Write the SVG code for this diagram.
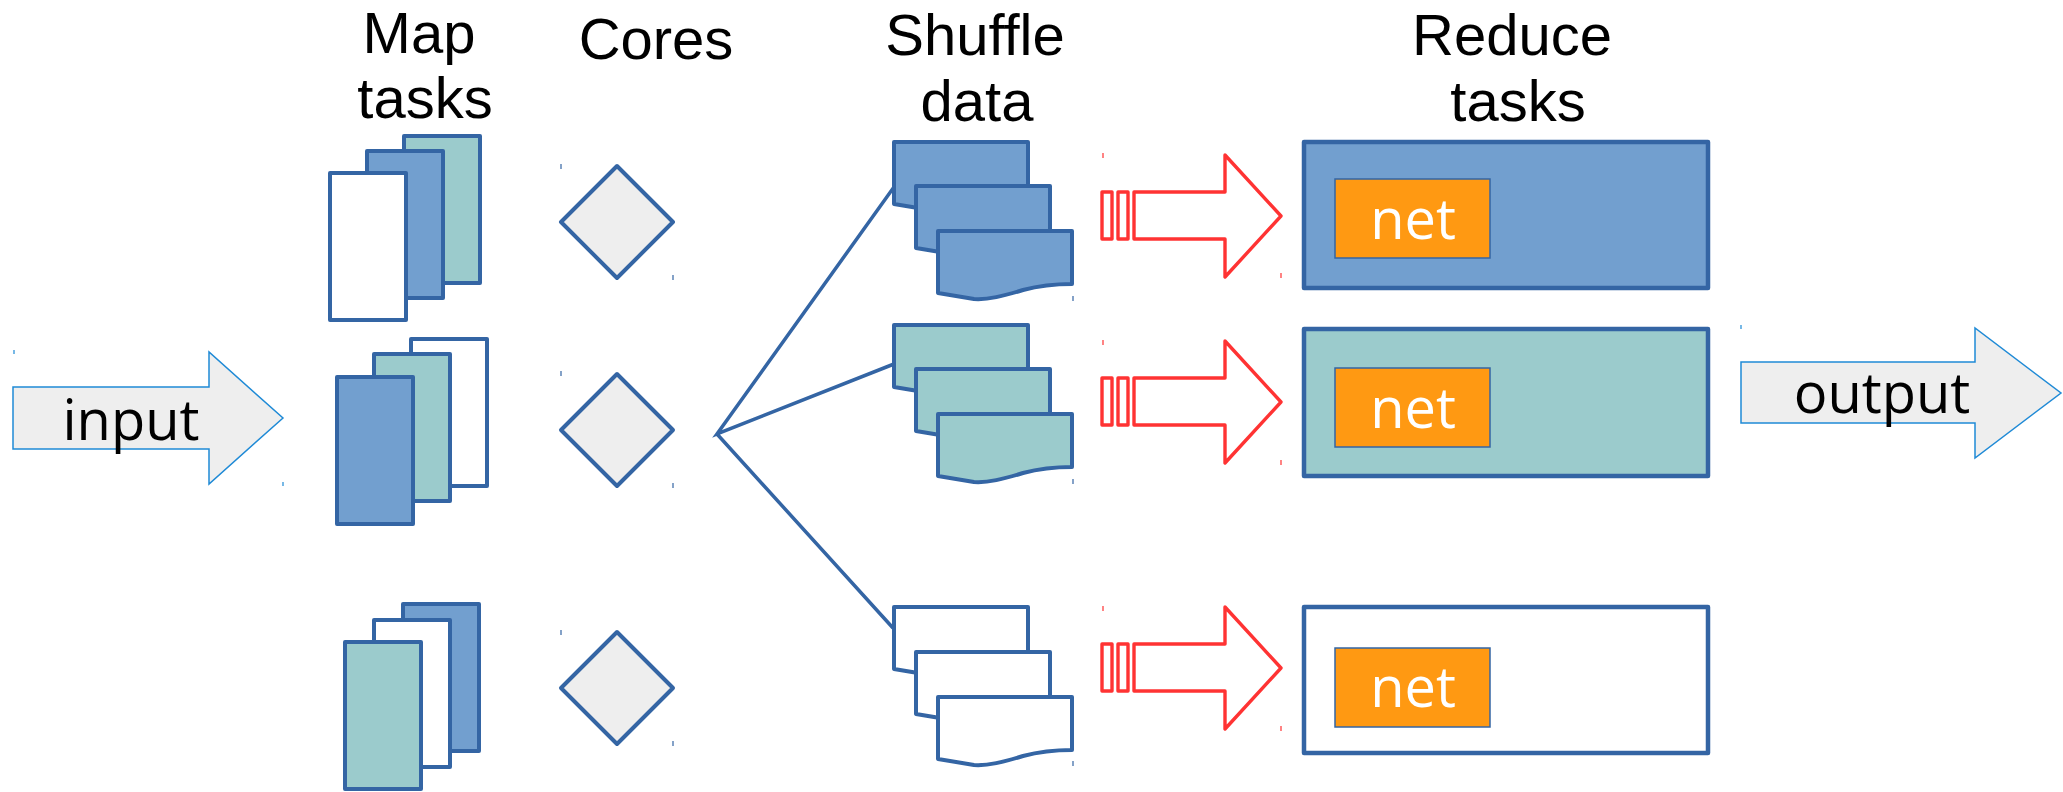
<svg xmlns="http://www.w3.org/2000/svg" width="2063" height="792" viewBox="0 0 2063 792">
<style>
text{font-family:"Open Sans","Liberation Sans",sans-serif;font-size:56px;fill:#000}
.ttl{font-family:"Liberation Sans",Arial,sans-serif;font-size:58px}
.t{text-anchor:middle}
.net{fill:#fff;text-anchor:middle}
.blue{fill:#729fcf}
.teal{fill:#9bcbcc}
.white{fill:#fff}
.sh{stroke:#3465a4;stroke-width:4;stroke-linejoin:round}
.dia{fill:#eeeeee;stroke:#3465a4;stroke-width:4;stroke-linejoin:round}
.io{fill:#eeeeee;stroke:#1f8ad6;stroke-width:1.5}
.red{fill:#fff;stroke:#ff3333;stroke-width:3.4;stroke-linejoin:round}
.rb{stroke:#3465a4;stroke-width:4.5;stroke-linejoin:round}
.nb{fill:#ff9912;stroke:#3465a4;stroke-width:1.5}
.con{stroke:#3465a4;stroke-width:3.5;fill:none}
.mk{stroke-width:1.2}
</style>
<defs>
<path id="doc" d="M0,0 H134 V53 C118,53 100,55 85,59 C65,65 50,69 36,68 L0,62 Z"/>
<g id="rarrow">
<rect x="1102" y="0" width="10" height="47"/>
<rect x="1118" y="0" width="10" height="47"/>
<path d="M1134,0 H1225 V-37 L1281,24 L1225,85 V47 H1134 Z"/>
</g>
</defs>

<g id="titles" class="ttl">
<text class="ttl t" x="419" y="53">Map</text>
<text class="ttl t" x="425" y="118">tasks</text>
<text class="ttl t" x="656" y="59">Cores</text>
<text class="ttl t" x="975" y="55">Shuffle</text>
<text class="ttl t" x="977" y="121">data</text>
<text class="ttl t" x="1512" y="55">Reduce</text>
<text class="ttl t" x="1518" y="121">tasks</text>
</g>

<g id="input">
<path class="io" d="M13,387 H209 V352 L283,418 L209,484 V449 H13 Z"/>
<text class="t" x="131" y="440">input</text>
</g>

<g id="map1">
<rect class="teal sh" x="404" y="136" width="76" height="147"/>
<rect class="blue sh" x="367" y="151" width="76" height="147"/>
<rect class="white sh" x="330" y="173" width="76" height="147"/>
</g>
<g id="map2">
<rect class="white sh" x="411" y="339" width="76" height="147"/>
<rect class="teal sh" x="374" y="354" width="76" height="147"/>
<rect class="blue sh" x="337" y="377" width="76" height="147"/>
</g>
<g id="map3">
<rect class="blue sh" x="403" y="604" width="76" height="147"/>
<rect class="white sh" x="374" y="620" width="76" height="147"/>
<rect class="teal sh" x="345" y="642" width="76" height="147"/>
</g>

<g id="core1"><path class="dia" d="M617,166 L673,222 L617,278 L561,222 Z"/></g>
<g id="core2"><path class="dia" d="M617,374 L673,430 L617,486 L561,430 Z"/></g>
<g id="core3"><path class="dia" d="M617,632 L673,688 L617,744 L561,688 Z"/></g>

<g id="connectors">
<path class="con" d="M894,187 L717,434 L894,364 M717,434 L893,628"/>
</g>

<g id="shuffle1">
<use href="#doc" class="blue sh" x="894" y="142"/>
<use href="#doc" class="blue sh" x="916" y="186"/>
<use href="#doc" class="blue sh" x="938" y="231"/>
</g>
<g id="shuffle2">
<use href="#doc" class="teal sh" x="894" y="325"/>
<use href="#doc" class="teal sh" x="916" y="369"/>
<use href="#doc" class="teal sh" x="938" y="414"/>
</g>
<g id="shuffle3">
<use href="#doc" class="white sh" x="894" y="607"/>
<use href="#doc" class="white sh" x="916" y="652"/>
<use href="#doc" class="white sh" x="938" y="697"/>
</g>

<g id="transfer1" class="red"><use href="#rarrow" y="192"/></g>
<g id="transfer2" class="red"><use href="#rarrow" y="378"/></g>
<g id="transfer3" class="red"><use href="#rarrow" y="644"/></g>

<g id="reduce1">
<rect class="blue rb" x="1304" y="142" width="404" height="146"/>
<rect class="nb" x="1335" y="179" width="155" height="79"/>
<text class="net" x="1413" y="239">net</text>
</g>
<g id="reduce2">
<rect class="teal rb" x="1304" y="329" width="404" height="147"/>
<rect class="nb" x="1335" y="368" width="155" height="79"/>
<text class="net" x="1413" y="428">net</text>
</g>
<g id="reduce3">
<rect class="white rb" x="1304" y="607" width="404" height="146"/>
<rect class="nb" x="1335" y="648" width="155" height="79"/>
<text class="net" x="1413" y="707">net</text>
</g>

<g id="output">
<path class="io" d="M1741,362 H1975 V328 L2061,393 L1975,458 V423 H1741 Z"/>
<text class="t" x="1882" y="413">output</text>
</g>

<g id="marks" class="mk">
<path stroke="#1f8ad6" d="M14,350v4 M283,482v4 M1741,325v4"/>
<path stroke="#3465a4" d="M561,164v5 M673,275v5 M561,371v5 M673,483v5 M561,630v5 M673,741v5 M1073,296v5 M1073,479v5 M1073,761v5"/>
<path stroke="#ff3333" d="M1103,153v5 M1281,273v5 M1103,340v5 M1281,460v5 M1103,606v5 M1281,726v5"/>
</g>
</svg>
